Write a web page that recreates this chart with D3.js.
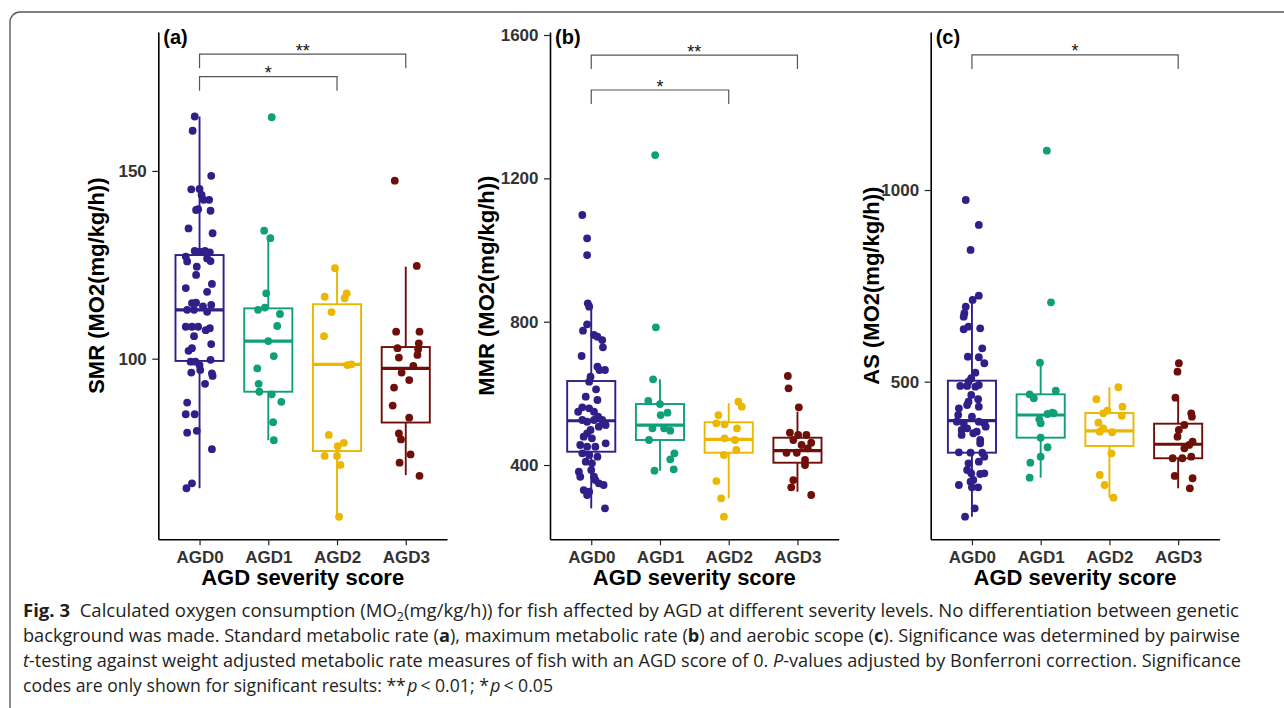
<!DOCTYPE html>
<html>
<head>
<meta charset="utf-8">
<script src="https://cdn.jsdelivr.net/npm/d3@7"></script>
<style>
  body { margin: 0; background: #fff; }
  svg { display: block; }
</style>
</head>
<body>
<svg id="fig" width="1284" height="708"></svg>
<script>
// categories and colours
var categories = ["AGD0", "AGD1", "AGD2", "AGD3"];
var groupColors = ["#2E1F89", "#0FA07A", "#EBB700", "#6E0F0A"];

// box stats: [lower whisker, q1, median, q3, upper whisker]
var smrBox = [[65.5, 99.4, 113.0, 127.6, 164.5], [78.3, 91.2, 104.7, 113.4, 132.2],
              [57.9, 75.4, 98.5, 114.5, 124.4], [69.0, 83.0, 97.4, 103.1, 124.5]];
var mmrBox = [[279, 437.1, 523.6, 634.4, 851.3], [384, 469.8, 511.6, 570.2, 639.2],
              [307, 434.3, 471.7, 519.2, 572.2], [325.5, 406.4, 439.9, 476.2, 548.8]];
var asBox  = [[147.8, 314.8, 398.3, 502.6, 722], [249.5, 353.9, 413, 467, 549.6],
              [197.4, 332.2, 371.4, 418.3, 485.4], [221.9, 300.2, 336.7, 390.4, 458.3]];

// individual fish: [value, jitter (fraction of category step)]
var smrAGD0 = [[164.5,-0.07],[160.7,-0.10],[148.7,0.17],[145.1,-0.12],[145.2,0],[143.6,0.03],[142.3,0.06],[142.3,0.14],
  [139.8,-0.02],[139.6,-0.05],[139.4,0.16],[134.7,-0.16],[133.4,0.19],[128.7,-0.07],[128.5,0],[128.7,0.08],[128.3,0.15],
  [127.2,-0.20],[125.9,-0.18],[124.5,-0.04],[122.3,-0.05],[126.7,0.11],[126.0,0.16],[119.9,0.18],[118.8,-0.20],[117.8,0.11],
  [114.8,-0.11],[114.9,-0.05],[113.9,0.05],[114.3,0.17],[113.0,-0.18],[113.0,-0.08],[112.5,0.11],[108.5,-0.20],[108.5,-0.11],
  [108.5,-0.02],[107.6,0.09],[108.1,0.15],[106.0,-0.08],[103.9,0.17],[102.8,-0.11],[102.1,-0.16],[99.2,-0.06],[99.2,-0.13],
  [98.3,0],[99.7,0.16],[96.3,-0.12],[97.0,0.01],[96.1,0.18],[95.4,0.19],[93.3,0.08],[88.3,-0.18],[85.2,-0.20],[85.2,-0.07],
  [80.3,-0.18],[80.8,-0.04],[75.9,0.18],[66.8,-0.11],[65.5,-0.19]];
var smrAGD1 = [[164.3,0.05],[134.1,-0.06],[132.1,0.03],[117.4,-0.03],[113.0,-0.15],[113.6,-0.05],[111.9,0.17],[108.7,0.13],
  [104.7,0],[100.7,0.08],[97.4,-0.16],[93.3,-0.14],[91.2,-0.13],[90.5,0.05],[88.5,0.19],[83.1,0.07],[78.3,0.08]];
var smrAGD2 = [[124.1,-0.03],[116.5,-0.18],[117.4,0.14],[116.1,0.11],[112.4,-0.08],[106.0,-0.19],[98.3,0.15],[98.5,0.21],
  [79.7,-0.12],[76.7,0.01],[77.6,0.10],[74.1,-0.18],[74.1,0],[71.7,0.05],[57.9,0.03]];
var smrAGD3 = [[147.4,-0.16],[124.7,0.16],[107.2,-0.14],[107.2,0.20],[104.1,0.19],[102.8,-0.12],[102.5,0.18],[101.0,0.17],
  [100.3,-0.10],[98.1,0.11],[96.3,-0.06],[94.3,0.05],[92.3,-0.17],[87.5,-0.19],[84.3,0.05],[80.1,-0.10],[78.5,-0.07],
  [74.5,0.07],[72.3,-0.09],[68.8,0.20]];

var mmrAGD0 = [[1097.7,-0.13],[1032.7,-0.06],[986,-0.06],[851.3,-0.05],[841.8,-0.03],[792.7,-0.06],[774.8,-0.12],[762.8,0.04],
  [758,0.09],[748.8,0.16],[728.5,0.17],[704.2,-0.14],[674.3,0.09],[665.1,0.12],[665.1,0.20],[646.4,-0.01],[632.5,-0.03],
  [611.3,0.07],[590.6,-0.08],[581.4,0.09],[561,-0.13],[558.2,-0.03],[548.7,0.04],[548.7,-0.19],[534.8,0.10],[525.6,0.16],
  [525.6,0.04],[520.8,-0.06],[525.6,-0.13],[511.6,0.21],[506.9,0.11],[497.7,-0.01],[488.5,-0.06],[479,-0.11],[474.5,0.01],
  [460.6,0.21],[455.8,-0.16],[451.1,-0.06],[451.1,0.06],[432.7,-0.13],[427.9,-0.03],[423.2,0.09],[409.2,-0.08],[404.7,0.01],
  [381.3,-0.18],[367.3,-0.16],[386,0],[367.3,0.04],[358.1,0.06],[348.9,0.11],[344.2,0.18],[330.2,-0.11],[325.5,-0.03],
  [316.3,-0.06],[279.2,0.20]];
var mmrAGD1 = [[1265,-0.07],[784.3,-0.06],[639,-0.10],[578.6,-0.17],[570.2,0],[546,0.11],[539.5,0.01],[502.4,-0.11],
  [502.4,0.06],[495.7,0.15],[469.8,-0.16],[432.7,0.21],[415.9,0.15],[384.1,-0.08],[388,0.20]];
var mmrAGD2 = [[576.7,0.14],[562.7,0.19],[539.5,-0.15],[516.4,-0.18],[513.6,-0.06],[502.4,0.12],[474.5,-0.06],[469.8,0.09],
  [427.9,-0.07],[441.9,0.11],[355.3,-0.18],[307,-0.11],[255.7,-0.07]];
var mmrAGD3 = [[648.4,-0.14],[614,-0.13],[561,0.02],[490.1,-0.11],[483.7,0.01],[483.7,0.13],[462.2,0.20],[469.8,-0.06],
  [455.8,0.06],[446.6,0.15],[434.3,-0.16],[434.3,-0.01],[414,0.11],[400,0.11],[358.1,-0.06],[337.8,-0.09],[316.3,0.20]];

var asAGD0 = [[974,-0.09],[908.8,0.10],[843.6,-0.02],[724.4,0.10],[713.2,0.01],[695.7,-0.09],[678.5,-0.11],[669.6,-0.12],
  [636.7,-0.12],[643.5,-0.05],[639.3,0.12],[587.1,0.15],[565.2,-0.06],[563.7,0.10],[548,0.18],[523.5,0.05],[508.9,-0.01],
  [500,-0.05],[488.8,-0.17],[488.8,-0.07],[487,0.05],[491.4,0.10],[465.3,-0.01],[447.8,-0.05],[454.1,0.09],[434.8,0.10],
  [430.6,-0.19],[439.2,-0.07],[413.1,-0.20],[408.7,0],[395.6,-0.22],[391.5,-0.12],[395.6,0.10],[391.5,0.18],[374,-0.15],
  [378.4,-0.07],[369.6,0.07],[382.6,0.20],[361,-0.15],[365.4,0.02],[347.9,0.12],[339.3,0.12],[315.8,-0.19],[314.8,-0.02],
  [314.8,0.15],[304.3,0.18],[291.3,0.10],[287.1,-0.05],[269.6,-0.07],[261,-0.01],[259.2,0.12],[261,0.18],[243.5,0.02],
  [239.1,-0.02],[230.5,-0.19],[224.5,0],[224.5,0.09],[169.7,0.04],[147.8,-0.10]];
var asAGD1 = [[1102.7,0.09],[707,0.15],[549.6,-0.01],[467.1,-0.16],[456.7,-0.10],[476.5,0.22],[419.1,0.17],[415.7,0.10],
  [417.5,0.19],[401.9,-0.02],[391.5,0],[353.9,0],[328.9,0.10],[304.3,0],[288.7,-0.15],[249.5,-0.16]];
var asAGD2 = [[485.4,0.13],[454.1,-0.19],[434.8,0.19],[424.3,-0.03],[417.5,-0.09],[411.3,0.18],[393,-0.16],[378.4,-0.09],
  [369.6,-0.14],[368,0.04],[313.2,0.03],[256.6,-0.14],[230.5,-0.07],[197.4,0.06]];
var asAGD3 = [[548,0.01],[526,-0.01],[458.3,-0.04],[417.5,0.19],[408.7,0.20],[387,0.09],[373.9,0.01],[356.5,-0.01],
  [343.5,0.21],[334.9,0.16],[326.2,0.09],[304.3,0.19],[300.2,0.06],[300.2,-0.08],[254,-0.05],[248,0.21],[221.9,0.17]];

// significance brackets: [from group, to group, height in data units, label]
var smrSig = [[0, 3, 181.1, "**"], [0, 2, 175.1, "*"]];
var mmrSig = [[0, 3, 1544, "**"], [0, 2, 1446.5, "*"]];
var asSig  = [[0, 3, 1352.3, "*"]];

var smrTicks = [100, 150], mmrTicks = [400, 800, 1200, 1600], asTicks = [500, 1000];

var panels = [
  {label: "(a)", title: "SMR (MO2(mg/kg/h))", left: 158.3, domain: [51.9, 187], ticks: smrTicks,
   box: smrBox, pts: [smrAGD0, smrAGD1, smrAGD2, smrAGD3], sig: smrSig, titleX: 104},
  {label: "(b)", title: "MMR (MO2(mg/kg/h))", left: 550, domain: [192.7, 1608.4], ticks: mmrTicks,
   box: mmrBox, pts: [mmrAGD0, mmrAGD1, mmrAGD2, mmrAGD3], sig: mmrSig, titleX: 494},
  {label: "(c)", title: "AS (MO2(mg/kg/h))", left: 930.7, domain: [88.8, 1412.2], ticks: asTicks,
   box: asBox, pts: [asAGD0, asAGD1, asAGD2, asAGD3], sig: asSig, titleX: 879}
];

var svg = d3.select("#fig");
svg.append("rect").attr("width", 1284).attr("height", 708).attr("fill", "#fff");

// figure frame
svg.append("path")
  .attr("d", "M10,708 L10,22 A10,10 0 0 1 20,12 L1284,12")
  .attr("fill", "none").attr("stroke", "#5a5a5a").attr("stroke-width", 1.4);

var plotTop = 32, plotBottom = 539.3, plotW = 288.7;
var font = "'Liberation Sans', Arial, sans-serif";

panels.forEach(function(p) {
  var g = svg.append("g");
  var x = d3.scalePoint().domain(categories).range([p.left, p.left + plotW]).padding(0.6);
  var y = d3.scaleLinear().domain(p.domain).range([plotBottom, plotTop]);
  var step = x.step(), bw = step * 0.70;

  // boxes
  p.box.forEach(function(b, i) {
    var cx = x(categories[i]), col = groupColors[i];
    var bg = g.append("g").attr("stroke", col).attr("fill", "none").attr("stroke-width", 1.9);
    bg.append("line").attr("x1", cx).attr("x2", cx).attr("y1", y(b[0])).attr("y2", y(b[1]));
    bg.append("line").attr("x1", cx).attr("x2", cx).attr("y1", y(b[3])).attr("y2", y(b[4]));
    bg.append("rect").attr("x", cx - bw / 2).attr("width", bw)
      .attr("y", y(b[3])).attr("height", y(b[1]) - y(b[3]));
    bg.append("line").attr("x1", cx - bw / 2).attr("x2", cx + bw / 2)
      .attr("y1", y(b[2])).attr("y2", y(b[2])).attr("stroke-width", 3.2);
  });

  // points
  p.pts.forEach(function(arr, i) {
    g.append("g").selectAll("circle").data(arr).enter().append("circle")
      .attr("cx", function(d) { return x(categories[i]) + d[1] * step; })
      .attr("cy", function(d) { return y(d[0]); })
      .attr("r", 3.9)
      .attr("fill", groupColors[i]);
  });

  // axes
  var ya = g.append("g").attr("transform", "translate(" + p.left + ",0)")
    .call(d3.axisLeft(y).tickValues(p.ticks).tickSize(6).tickSizeOuter(0).tickPadding(5.5).tickFormat(d3.format("d")));
  var xa = g.append("g").attr("transform", "translate(0," + plotBottom + ")")
    .call(d3.axisBottom(x).tickSize(6).tickSizeOuter(0).tickPadding(6));
  [ya, xa].forEach(function(a) {
    a.select(".domain").attr("stroke", "#000").attr("stroke-width", 1.6);
    a.selectAll(".tick line").attr("stroke", "#222").attr("stroke-width", 1.2);
    a.selectAll(".tick text").attr("font-family", font).attr("font-weight", "bold")
      .attr("font-size", 17).attr("fill", "#333");
  });

  // axis titles
  g.append("text").attr("x", (p.left + p.left + plotW) / 2).attr("y", 585)
    .attr("text-anchor", "middle").attr("font-family", font).attr("font-weight", "bold")
    .attr("font-size", 22).attr("fill", "#000").text("AGD severity score");
  g.append("text").attr("transform", "translate(" + p.titleX + "," + ((plotTop + plotBottom) / 2) + ") rotate(-90)")
    .attr("text-anchor", "middle").attr("font-family", font).attr("font-weight", "bold")
    .attr("font-size", 22).attr("fill", "#000").text(p.title);

  // panel tag
  g.append("text").attr("x", p.left + 5).attr("y", 44).attr("font-family", font)
    .attr("font-weight", "bold").attr("font-size", 20).attr("fill", "#000").text(p.label);

  // significance brackets
  p.sig.forEach(function(s) {
    var x1 = x(categories[s[0]]), x2 = x(categories[s[1]]), yy = y(s[2]);
    g.append("path")
      .attr("d", "M" + x1 + "," + (yy + 14) + "V" + yy + "H" + x2 + "V" + (yy + 14))
      .attr("fill", "none").attr("stroke", "#555").attr("stroke-width", 1.2);
    g.append("text").attr("x", (x1 + x2) / 2).attr("y", yy + 2.5).attr("text-anchor", "middle")
      .attr("font-family", font).attr("font-size", 18).attr("fill", "#111").text(s[3]);
  });
});

// caption
var capLines = [
  {y: 617, w: 1216, parts: [["Fig. 3", "b"], ["  Calculated oxygen consumption (MO"], ["2", "sub"],
    ["(mg/kg/h)) for fish affected by AGD at different severity levels. No differentiation between genetic"]]},
  {y: 642, w: 1217, parts: [["background was made. Standard metabolic rate ("], ["a", "b"], ["), maximum metabolic rate ("],
    ["b", "b"], [") and aerobic scope ("], ["c", "b"], ["). Significance was determined by pairwise"]]},
  {y: 667, w: 1218, parts: [["t", "i"], ["-testing against weight adjusted metabolic rate measures of fish with an AGD score of 0. "],
    ["P", "i"], ["-values adjusted by Bonferroni correction. Significance"]]},
  {y: 692, w: 530, parts: [["codes are only shown for significant results: **"], ["p", "i"], ["\u2009< 0.01; *"], ["p", "i"], ["\u2009< 0.05"]]}
];
capLines.forEach(function(l, li) {
  var t = svg.append("text").attr("x", 23).attr("y", l.y)
    .attr("font-family", "'Open Sans', 'Noto Sans', sans-serif").attr("font-size", 18).attr("fill", "#231f20")
    .attr("textLength", l.w).attr("lengthAdjust", "spacingAndGlyphs").style("white-space", "pre");
  var shifted = false;
  l.parts.forEach(function(pt) {
    var ts = t.append("tspan").text(pt[0]);
    if (pt[1] === "b") ts.attr("font-weight", "bold");
    if (pt[1] === "i") { ts.attr("font-style", "italic"); if (li === 3) ts.attr("dx", 1.5); }
    if (pt[1] === "sub") { ts.attr("font-size", 12).attr("dy", 4); shifted = true; }
    else if (shifted) { ts.attr("dy", -4); shifted = false; }
  });
});
</script>
</body>
</html>
